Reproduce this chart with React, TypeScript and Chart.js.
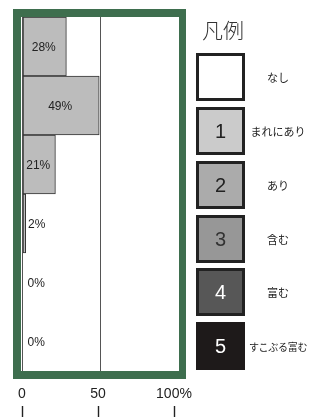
import React, { useEffect, useRef } from "react";
import { Chart, registerables } from "chart.js";

Chart.register(...registerables);

const categories = ["層1", "層2", "層3", "層4", "層5", "層6"];
const values = [28, 49, 21, 2, 0, 0];
const valueLabels = ["28%", "49%", "21%", "2%", "0%", "0%"];
const axisTicks = [0, 50, 100];
const axisTickLabels = ["0", "50", "100%"];
const gridTicks = [0, 50];

const legendTitle = "凡例";
const legendNumbers = ["", "1", "2", "3", "4", "5"];
const legendLabels = ["なし", "まれにあり", "あり", "含む", "富む", "すこぶる富む"];
const legendFills = ["#ffffff", "#cbcbcb", "#ababab", "#979797", "#575757", "#1e1a1a"];
const legendTextColors = ["#222", "#222", "#222", "#333", "#ffffff", "#ffffff"];

const FRAME = "#3e6e4e";

const framePlugin = {
  id: "frame",
  afterDraw(chart: any) {
    const { ctx, chartArea: a } = chart;
    ctx.save();
    ctx.fillStyle = FRAME;
    ctx.fillRect(a.left - 8, a.top - 8, a.right - a.left + 15, 8);
    ctx.fillRect(a.left - 8, a.bottom, a.right - a.left + 15, 8);
    ctx.fillRect(a.left - 8, a.top - 8, 8, a.bottom - a.top + 16);
    ctx.fillRect(a.right, a.top - 8, 7, a.bottom - a.top + 16);
    // tick marks below the axis labels
    const sx = chart.scales.x2;
    ctx.strokeStyle = "#222";
    ctx.lineWidth = 1.4;
    axisTicks.forEach((v) => {
      const px = Math.round(sx.getPixelForValue(v)) + 0.5;
      ctx.beginPath();
      ctx.moveTo(px, 406);
      ctx.lineTo(px, 417);
      ctx.stroke();
    });
    ctx.restore();
  },
};

const labelPlugin = {
  id: "valueLabels",
  afterDatasetsDraw(chart: any) {
    const { ctx } = chart;
    const meta = chart.getDatasetMeta(0);
    ctx.save();
    ctx.font = "12px 'Liberation Sans', Arial, sans-serif";
    ctx.fillStyle = "#222";
    ctx.textBaseline = "middle";
    meta.data.forEach((bar: any, i: number) => {
      const w = bar.x - bar.base;
      if (w > 25) {
        ctx.textAlign = "center";
        ctx.fillText(valueLabels[i], (bar.x + bar.base) / 2 - 1, bar.y + 1);
      } else {
        ctx.textAlign = "left";
        ctx.fillText(valueLabels[i], bar.base + 5, bar.y + 1);
      }
    });
    ctx.restore();
  },
};

function ChartBox() {
  const ref = useRef<HTMLCanvasElement | null>(null);
  useEffect(() => {
    if (!ref.current) return;
    const chart = new Chart(ref.current, {
      type: "bar",
      data: {
        labels: categories,
        datasets: [
          {
            data: values,
            backgroundColor: "#bcbcbc",
            borderColor: "#333",
            borderWidth: 1,
            borderSkipped: false,
            barPercentage: 1,
            categoryPercentage: 1,
          },
        ],
      },
      options: {
        indexAxis: "y",
        responsive: false,
        animation: false,
        layout: { padding: { left: 21, top: 17, right: 141, bottom: 0 } },
        plugins: { legend: { display: false }, tooltip: { enabled: false } },
        scales: {
          y: { display: false },
          x: {
            position: "bottom",
            weight: 0,
            min: -1,
            max: 100,
            afterBuildTicks: (s: any) => {
              s.ticks = gridTicks.map((v) => ({ value: v }));
            },
            afterFit: (s: any) => {
              s.height = 0;
            },
            ticks: { display: false },
            border: { display: false },
            grid: { color: "#555", lineWidth: 1, drawTicks: false },
          },
          x2: {
            type: "linear",
            position: "bottom",
            weight: 1,
            min: -0.66,
            max: 103.3,
            afterBuildTicks: (s: any) => {
              s.ticks = axisTicks.map((v) => ({ value: v }));
            },
            afterFit: (s: any) => {
              s.height = 46;
            },
            ticks: {
              callback: (v: any) => axisTickLabels[axisTicks.indexOf(Number(v))] ?? "",
              color: "#222",
              font: { family: "'Liberation Sans', Arial, sans-serif", size: 14 },
              padding: 15,
              maxRotation: 0,
              autoSkip: false,
            },
            border: { display: false },
            grid: { display: false, drawTicks: false },
          },
        },
      },
      plugins: [framePlugin, labelPlugin],
    } as any);
    return () => chart.destroy();
  }, []);
  return <canvas ref={ref} width={320} height={417} style={{ display: "block" }} />;
}

export default function App() {
  const boxTop = [53, 107, 161, 215, 268, 322];
  return (
    <div
      style={{
        position: "absolute",
        left: 0,
        top: 0,
        width: 320,
        height: 417,
        background: "#fff",
        overflow: "hidden",
      }}
    >
      <ChartBox />
      <div
        style={{
          position: "absolute",
          left: 202,
          top: 15,
          fontFamily: "'Noto Sans CJK JP', sans-serif",
          fontSize: 21,
          fontWeight: 300,
          color: "#333",
          lineHeight: "28px",
        }}
      >
        {legendTitle}
      </div>
      {legendLabels.map((lab, i) => (
        <React.Fragment key={i}>
          <div
            style={{
              position: "absolute",
              left: 196,
              top: boxTop[i],
              width: 49,
              height: 48,
              boxSizing: "border-box",
              border: i === 5 ? "none" : "3px solid #222",
              background: legendFills[i],
              color: legendTextColors[i],
              fontFamily: "'Liberation Sans', Arial, sans-serif",
              fontSize: 20,
              display: "flex",
              alignItems: "center",
              justifyContent: "center",
            }}
          >
            {legendNumbers[i]}
          </div>
          <div
            style={{
              position: "absolute",
              left: 245,
              width: 66,
              top: boxTop[i],
              height: 48,
              display: "flex",
              alignItems: "center",
              justifyContent: "center",
              fontFamily: "'Noto Sans CJK JP', sans-serif",
              fontSize: i === 5 ? 10 : 11,
              color: "#222",
              whiteSpace: "nowrap",
              letterSpacing: i === 5 ? -0.3 : 0,
            }}
          >
            {lab}
          </div>
        </React.Fragment>
      ))}
    </div>
  );
}
